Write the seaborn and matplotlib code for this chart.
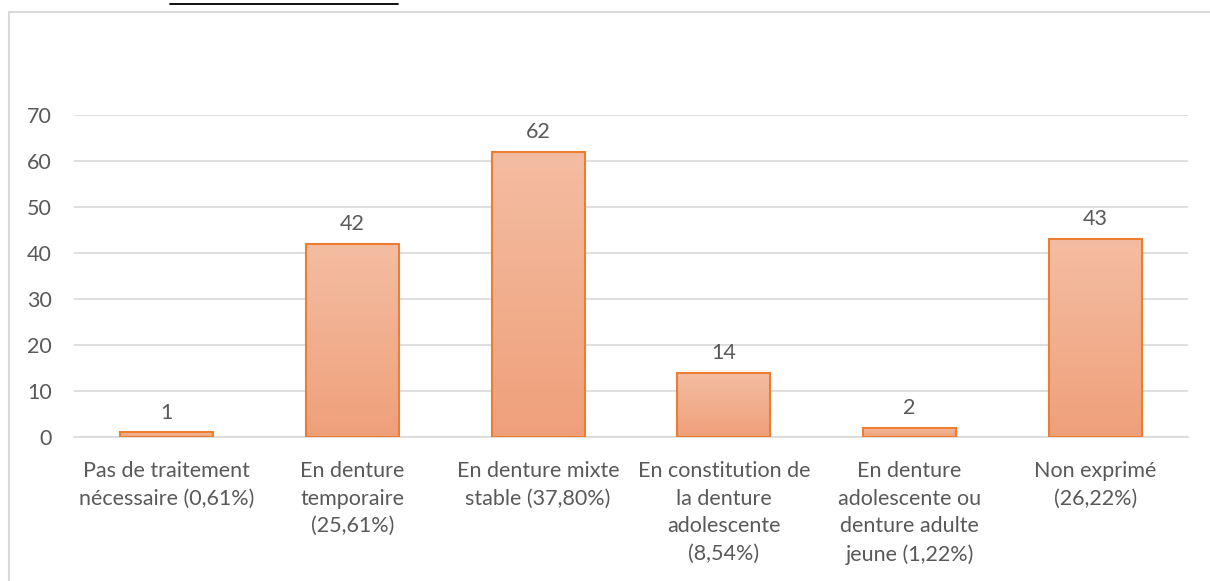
import numpy as np
import matplotlib
matplotlib.use("Agg")
import matplotlib.pyplot as plt
import matplotlib.colors as mcolors
from matplotlib.patches import Rectangle
from matplotlib.lines import Line2D
import seaborn as sns

# donnees
categories = [
    "Pas de traitement\nnécessaire (0,61%)",
    "En denture\ntemporaire\n(25,61%)",
    "En denture mixte\nstable (37,80%)",
    "En constitution de\nla denture\nadolescente\n(8,54%)",
    "En denture\nadolescente ou\ndenture adulte\njeune (1,22%)",
    "Non exprimé\n(26,22%)",
]
effectifs = [1, 42, 62, 14, 2, 43]
yticks = [0, 10, 20, 30, 40, 50, 60, 70]

sns.set_theme(style="white")
plt.rcParams['font.family'] = ['Lato', 'DejaVu Sans']

gris = "#595959"
grille = "#D9D9D9"
taille = 15.5

fig = plt.figure(figsize=(12.1, 5.81), dpi=100)
ax = fig.add_axes([74 / 1210, 1 - 437 / 581, (1188 - 74) / 1210, (437 - 115) / 581])

sns.barplot(x=categories, y=effectifs, ax=ax, color="#F0A983",
            edgecolor="#ED7D31", linewidth=1.5, width=0.5, zorder=3)

# degrade vertical dans les barres
cmap = mcolors.LinearSegmentedColormap.from_list("deg", ["#EFA07A", "#F4BDA2"])
grad = np.linspace(0, 1, 256).reshape(-1, 1)
for p in ax.patches:
    x0, y0 = p.get_x(), p.get_y()
    w, h = p.get_width(), p.get_height()
    im = ax.imshow(grad, cmap=cmap, origin="lower", aspect="auto",
                   extent=[x0, x0 + w, y0, y0 + h], zorder=3)
    im.set_clip_path(p)
    p.set_facecolor("none")
    p.set_zorder(4)

ax.set_xlim(-0.5, len(categories) - 0.5)
ax.set_ylim(0, 70)
ax.set_yticks(yticks)
ax.yaxis.grid(True, color=grille, linewidth=1.2, zorder=0)
ax.set_axisbelow(True)
for s in ["top", "right", "left"]:
    ax.spines[s].set_visible(False)
ax.spines["bottom"].set_color(grille)
ax.spines["bottom"].set_linewidth(1.2)
ax.tick_params(axis="both", length=0, labelsize=taille, labelcolor=gris)
ax.tick_params(axis="y", pad=16)
ax.tick_params(axis="x", pad=17.5)
for lab in ax.get_xticklabels():
    lab.set_linespacing(1.47)

# etiquettes de valeur
for i, v in enumerate(effectifs):
    ax.annotate(str(v), (i, v), xytext=(0, 7), textcoords="offset points",
                ha="center", va="bottom", fontsize=taille, color=gris)

# cadre du graphique et titre coupe
fig.patches.append(Rectangle((9 / 1210, -0.1), 1.1, 1 - 12 / 581 + 0.1,
                             transform=fig.transFigure, fill=False,
                             edgecolor=grille, linewidth=1.5))
fig.lines.append(Line2D([170 / 1210, 398 / 1210], [1 - 3.5 / 581] * 2,
                        transform=fig.transFigure, color="black", linewidth=1.3))

fig.savefig("out.png", dpi=100)
